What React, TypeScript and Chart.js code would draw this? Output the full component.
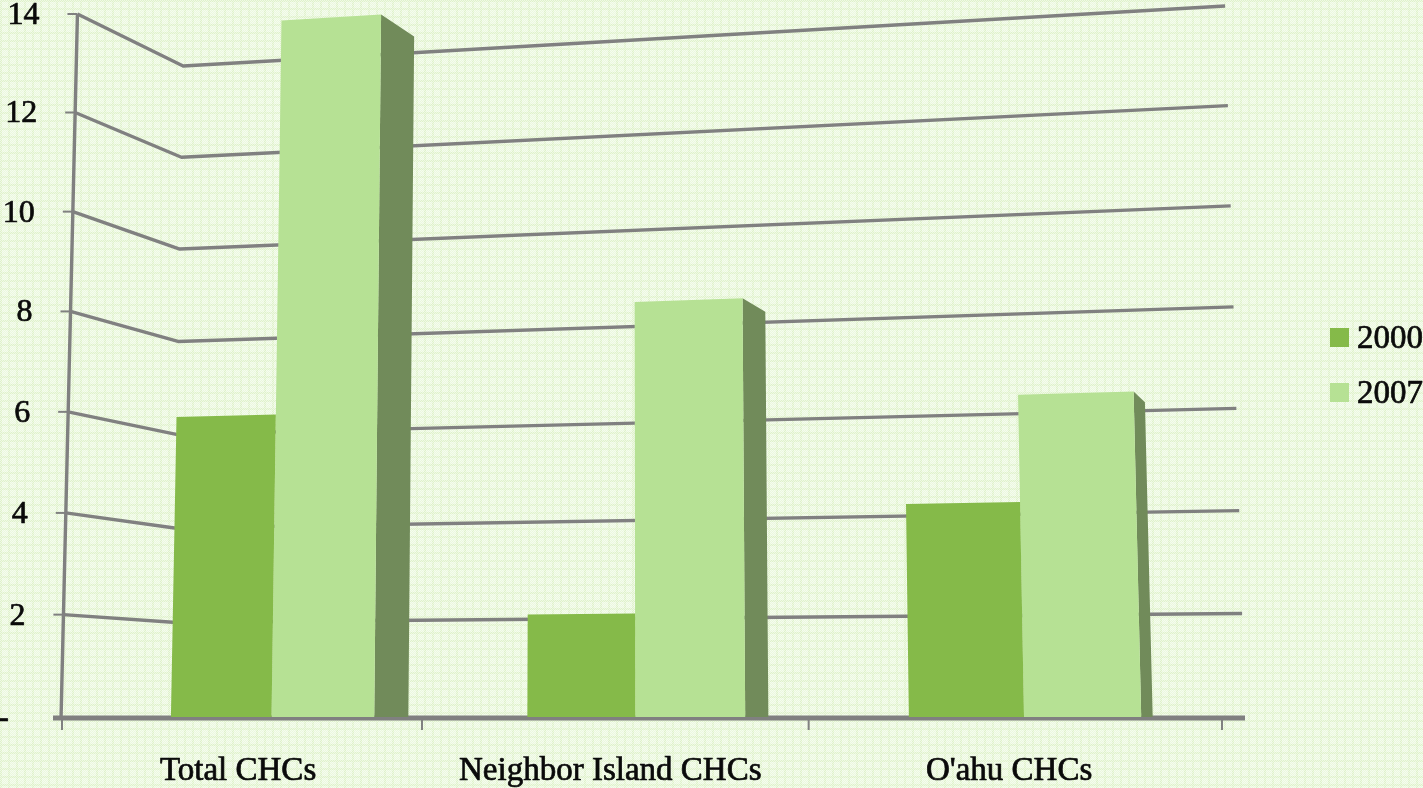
import React, { useEffect, useRef } from "react";
import { Chart, registerables } from "chart.js";

Chart.register(...registerables);

const categories = ["Total CHCs", "Neighbor Island CHCs", "O'ahu CHCs"];
const seriesNames = ["2000", "2007"];
const values2000 = [6.0, 2.05, 4.26];
const values2007 = [13.93, 8.3, 6.45];

const FONT = '"Liberation Serif", serif';
const TEXT = "#0a0a0a";
const GRID = "#808080";
const SIDE = "#718b5a";
const COLOR_2000 = "#85ba49";
const COLOR_2007 = "#b6e194";

// Perspective constants for the pseudo-3D look of the original picture.
const WARP = 0.1035;
const BAR_SHIFT = 0.0355;
const BAR_SCALE = 0.969;
const VANISH_X = 600;
const LEAN = 4.34e-5;
const TOP_SLOPE = 8.3e-5;
const CORNER_DEPTH = 0.926;
const RIGHT_DEPTH = 1.0113;
const BOW = 3.2e-5;
const LABEL_DRIFT = 0.003;

const lean = (x: number, h: number) => x + (VANISH_X - x) * LEAN * h;
const warpFrac = (u: number) => u + WARP * u * (u - 1);

function texture(ctx: CanvasRenderingContext2D) {
  const tile = document.createElement("canvas");
  tile.width = 8;
  tile.height = 8;
  const t = tile.getContext("2d")!;
  t.fillStyle = "#ebf8de";
  t.fillRect(0, 0, 8, 8);
  t.fillStyle = "#dff2ca";
  t.fillRect(0, 0, 8, 2);
  t.fillRect(0, 0, 2, 8);
  t.fillStyle = "rgba(255,255,255,0.5)";
  for (let y = 0; y < 8; y++) {
    for (let x = y % 2; x < 8; x += 2) t.fillRect(x, y, 1, 1);
  }
  return ctx.createPattern(tile, "repeat")!;
}

function heavyText(ctx: CanvasRenderingContext2D, s: string, x: number, y: number) {
  ctx.strokeStyle = TEXT;
  ctx.lineWidth = 0.7;
  ctx.lineJoin = "round";
  ctx.strokeText(s, x, y);
  ctx.fillText(s, x, y);
}

const pseudo3d = {
  id: "pseudo3d",
  beforeDraw(chart: any) {
    const { ctx, width, height } = chart;
    ctx.save();
    ctx.fillStyle = texture(ctx);
    ctx.fillRect(0, 0, width, height);
    ctx.restore();
  },
  beforeDatasetsDraw(chart: any) {
    const { ctx, chartArea, scales } = chart;
    const yScale = scales.y;
    const base = yScale.getPixelForValue(0);
    const leftEdge = chartArea.left;
    const W = chartArea.right - chartArea.left;
    const topH = base - yScale.getPixelForValue(yScale.max);
    // the wall lines bow slightly upward in the middle of the axis
    const bowed = (h: number) => h + h * (topH - h) * BOW;
    ctx.save();
    ctx.strokeStyle = GRID;
    ctx.lineCap = "butt";
    ctx.lineJoin = "round";

    // walls: one bent line per y tick
    yScale.ticks.forEach((tick: any) => {
      if (tick.value === 0) return;
      const h = bowed(base - yScale.getPixelForValue(tick.value));
      const y = base - h;
      const xAxis = lean(leftEdge - 1, h);
      ctx.lineWidth = 3.4;
      ctx.beginPath();
      ctx.moveTo(xAxis, y);
      ctx.lineTo(lean(leftEdge + 109, h * CORNER_DEPTH), base - h * CORNER_DEPTH);
      ctx.lineTo(lean(leftEdge + 1183, h * RIGHT_DEPTH), base - h * RIGHT_DEPTH);
      ctx.stroke();
      ctx.lineWidth = 2;
      ctx.beginPath();
      ctx.moveTo(xAxis - 10, y);
      ctx.lineTo(xAxis, y);
      ctx.stroke();
    });

    // vertical axis
    ctx.lineWidth = 3.4;
    ctx.beginPath();
    ctx.moveTo(lean(leftEdge - 1, topH), base - topH);
    ctx.lineTo(leftEdge - 1, base + 3);
    ctx.stroke();

    // horizontal axis and its ticks
    ctx.lineWidth = 5;
    ctx.beginPath();
    ctx.moveTo(leftEdge - 9, base + 1);
    ctx.lineTo(leftEdge + 1183, base + 1);
    ctx.stroke();
    ctx.lineWidth = 2;
    for (let i = 0; i <= categories.length; i++) {
      const x = leftEdge + W * warpFrac(i / categories.length);
      ctx.beginPath();
      ctx.moveTo(x, base + 2);
      ctx.lineTo(x, base + 13);
      ctx.stroke();
    }

    // y labels follow the leaning axis
    ctx.fillStyle = TEXT;
    ctx.font = `32px ${FONT}`;
    ctx.textBaseline = "alphabetic";
    ctx.textAlign = "right";
    yScale.ticks.forEach((tick: any) => {
      const h = bowed(base - yScale.getPixelForValue(tick.value));
      const y = base - h;
      const x = tick.value === 0 ? 9 : lean(leftEdge - 1, h) - 38;
      heavyText(ctx, tick.label, x, y + 10);
    });

    // category labels
    ctx.textAlign = "center";
    ctx.font = `33px ${FONT}`;
    categories.forEach((c, i) => {
      const u = (i + 0.5) / categories.length;
      const x = leftEdge + W * (warpFrac(u) - LABEL_DRIFT * u);
      heavyText(ctx, c, x, base + 63);
    });

    // legend
    ctx.textAlign = "left";
    ctx.font = `33px ${FONT}`;
    chart.data.datasets.forEach((d: any, i: number) => {
      const top = 328 + i * 55;
      ctx.fillStyle = d.backgroundColor;
      ctx.fillRect(1330, top, 19, 19);
      ctx.fillStyle = TEXT;
      heavyText(ctx, d.label, 1357, top + 20);
    });
    ctx.restore();
  },
  beforeDatasetDraw(chart: any, args: any) {
    const { ctx, chartArea } = chart;
    const W = chartArea.right - chartArea.left;
    const warpX = (px: number) => {
      const u = (px - chartArea.left) / W;
      return chartArea.left + W * warpFrac(BAR_SHIFT + BAR_SCALE * u);
    };
    const ds = chart.data.datasets[args.index];
    args.meta.data.forEach((bar: any) => {
      const p = bar.getProps(["x", "y", "base", "width"], true);
      const xl = warpX(p.x - p.width / 2);
      const xr = warpX(p.x + p.width / 2);
      const h = p.base - p.y;
      const tl = lean(xl, h);
      const tr = lean(xr, h);
      const tilt = ((tr - tl) * TOP_SLOPE * h) / 2;
      const yl = p.y + tilt;
      const yr = p.y - tilt;
      ctx.save();
      if (args.index === chart.data.datasets.length - 1) {
        const depth = (1530 - xr) * 0.0295;
        ctx.fillStyle = SIDE;
        ctx.beginPath();
        ctx.moveTo(xr, p.base);
        ctx.lineTo(tr, yr);
        ctx.lineTo(lean(xr + depth, h), yr + 0.03 * h + 1);
        ctx.lineTo(xr + depth, p.base);
        ctx.closePath();
        ctx.fill();
      }
      ctx.fillStyle = ds.backgroundColor;
      ctx.beginPath();
      ctx.moveTo(xl, p.base);
      ctx.lineTo(tl, yl);
      ctx.lineTo(tr, yr);
      ctx.lineTo(xr, p.base);
      ctx.closePath();
      ctx.fill();
      ctx.restore();
    });
    return false;
  },
};

export default function App() {
  const ref = useRef<HTMLCanvasElement>(null);
  useEffect(() => {
    const chart = new Chart(ref.current!, {
      type: "bar",
      data: {
        labels: categories,
        datasets: [
          { label: seriesNames[0], data: values2000, backgroundColor: COLOR_2000 },
          { label: seriesNames[1], data: values2007, backgroundColor: COLOR_2007 },
        ],
      },
      options: {
        responsive: false,
        animation: false,
        layout: { padding: { left: 62, right: 201, top: 14, bottom: 71 } },
        datasets: { bar: { categoryPercentage: 0.579, barPercentage: 1 } },
        plugins: { legend: { display: false }, tooltip: { enabled: false } },
        scales: {
          x: {
            grid: { display: false, drawTicks: false },
            border: { display: false },
            ticks: { display: false },
          },
          y: {
            min: 0,
            max: 14,
            grid: { display: false, drawTicks: false },
            border: { display: false },
            ticks: {
              display: false,
              stepSize: 2,
              callback: (v: any) => (v === 0 ? "-" : String(v)),
            },
          },
        },
      },
      plugins: [pseudo3d],
    } as any);
    return () => chart.destroy();
  }, []);
  return (
    <div style={{ position: "fixed", left: 0, top: 0, width: 1423, height: 788 }}>
      <canvas ref={ref} width={1423} height={788} style={{ display: "block" }} />
    </div>
  );
}
